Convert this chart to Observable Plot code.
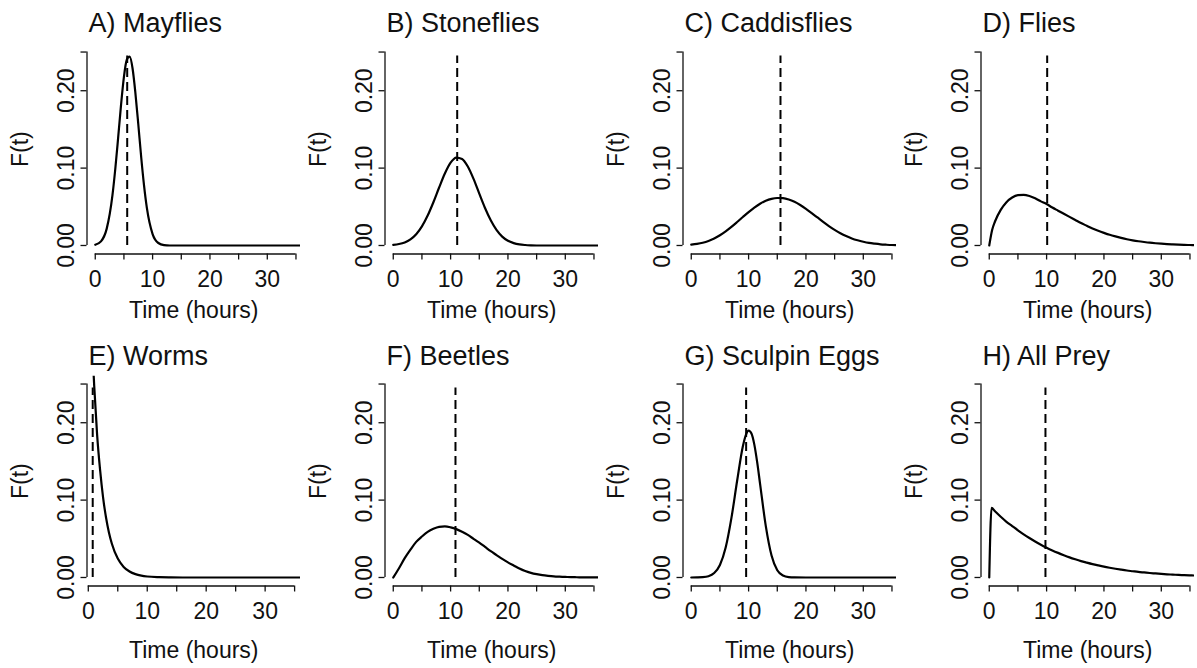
<!DOCTYPE html>
<html>
<head>
<meta charset="utf-8">
<script src="https://cdn.jsdelivr.net/npm/d3@7"></script>
<script src="https://cdn.jsdelivr.net/npm/@observablehq/plot@0.6"></script>
<style>
  body { margin: 0; background: #fff; }
  #chart { position: relative; width: 1197px; height: 668px; overflow: hidden; background: #fff; }
  .panel { position: absolute; }
</style>
</head>
<body>
<div id="chart"></div>
<script>
// ---- data ----
const titles = ["A) Mayflies", "B) Stoneflies", "C) Caddisflies", "D) Flies",
                "E) Worms", "F) Beetles", "G) Sculpin Eggs", "H) All Prey"];

const hours = [0,1,2,3,4,5,6,7,8,9,10,11,12,13,14,15,16,17,18,19,20,21,22,23,24,25,26,27,28,29,30,31,32,33,34,35,36];

const mayfliesHours = [0,1,2,3,3.5,4,4.5,5,5.5,6,6.5,7,7.5,8,8.5,9,10,11,12,13,14,16,20,25,30,36];
const mayflies = [0.0009,0.0053,0.0218,0.065,0.0995,0.140,0.182,0.218,0.240,0.244,0.229,0.197,0.157,0.115,0.078,0.0485,0.0147,0.0032,0.0005,0,0,0,0,0,0,0];

const stoneflies = [0.0008,0.0019,0.004,0.008,0.0146,0.0247,0.0387,0.0559,0.0749,0.093,0.107,0.1136,0.1118,0.102,0.086,0.067,0.0485,0.0326,0.0202,0.0115,0.0061,0.0031,0.0014,0.0006,0.0002,0,0,0,0,0,0,0,0,0,0,0,0];

const caddisflies = [0.001,0.002,0.0035,0.0058,0.009,0.0132,0.0182,0.024,0.0303,0.0368,0.0431,0.0489,0.0539,0.0578,0.0603,0.0614,0.0611,0.0594,0.0564,0.0523,0.0474,0.0419,0.0362,0.0305,0.0251,0.0202,0.0159,0.0122,0.0091,0.0067,0.0048,0.0033,0.0023,0.0015,0.001,0.0006,0.0004];

const fliesHours = [0,0.5,1,2,3,4,5,6,7,8,9,10,11,12,13,14,15,16,17,18,19,20,21,22,23,24,25,26,27,28,29,30,31,32,33,34,35,36];
const flies = [0,0.02,0.031,0.046,0.056,0.062,0.065,0.0655,0.064,0.061,0.057,0.0535,0.049,0.045,0.041,0.037,0.033,0.029,0.0255,0.022,0.019,0.0163,0.0138,0.0117,0.0098,0.0081,0.0067,0.0055,0.0045,0.0036,0.0029,0.0023,0.0018,0.0014,0.0011,0.0008,0.0006,0.0005];

const wormsHours = [0.8,1,1.5,2,2.5,3,3.5,4,5,6,7,8,9,10,12,14,16,20,25,30,36];
const worms = [0.279,0.248,0.184,0.139,0.104,0.0778,0.0582,0.0436,0.0244,0.0137,0.0077,0.0043,0.0024,0.0013,0.0004,0.0001,0,0,0,0,0];

const beetles = [0,0.012,0.025,0.036,0.046,0.053,0.059,0.063,0.0655,0.066,0.0648,0.0625,0.059,0.055,0.050,0.045,0.0395,0.034,0.029,0.024,0.0195,0.0155,0.0115,0.0083,0.006,0.0043,0.003,0.0021,0.0014,0.001,0.0007,0.0005,0.0003,0.0002,0.0001,0.0001,0];

const sculpinHours = [0,1,2,3,4,5,6,7,8,9,9.5,10,10.5,11,11.5,12,13,14,15,16,17,18,20,25,30,36];
const sculpin = [0,0.0001,0.0004,0.0016,0.0057,0.0162,0.0387,0.0767,0.125,0.1695,0.1837,0.1898,0.186,0.1717,0.1487,0.121,0.0664,0.0284,0.0094,0.0025,0.0005,0.0001,0,0,0,0];

const allPreyHours = [0,0.4,1,2,3,4,5,6,7,8,9,10,11,12,13,14,15,16,17,18,19,20,21,22,23,24,25,26,27,28,29,30,31,32,33,34,35,36];
const allPrey = [0,0.090,0.0855,0.0785,0.072,0.0665,0.061,0.0558,0.051,0.0465,0.0423,0.0385,0.035,0.0318,0.0288,0.026,0.0235,0.0212,0.0192,0.0173,0.0156,0.014,0.0126,0.0113,0.0101,0.009,0.0081,0.0072,0.0065,0.0058,0.0052,0.0046,0.0041,0.0037,0.0033,0.003,0.0027,0.0025];

// dashed vertical reference lines (hours)
const vlines = [5.57, 11.15, 15.56, 10.1, 0.75, 10.85, 9.57, 9.8];

const xTicks = [0,5,10,15,20,25,30,35];
const yTicks = [0,0.1,0.2,0.25];

// ---- build panels ----
const series = [
  [mayfliesHours, mayflies], [hours, stoneflies], [hours, caddisflies], [fliesHours, flies],
  [wormsHours, worms], [hours, beetles], [sculpinHours, sculpin], [allPreyHours, allPrey]
];
const xDomainStd = [-1.44, 35.79];
const xDomainWorms = [-0.22, 36.0];
const yDomain = [-0.011, 0.26];
const FONT = '"Liberation Sans", Arial, Helvetica, sans-serif';
const INK = "#111";

const chart = document.getElementById("chart");
series.forEach(([hx, fy], i) => {
  const row = Math.floor(i / 4), col = i % 4;
  const data = hx.map((h, j) => ({h, f: fy[j]}));
  const xDomain = i === 4 ? xDomainWorms : xDomainStd;
  const plot = Plot.plot({
    width: 302, height: 334,
    marginLeft: 86.5, marginRight: 2, marginTop: 43.8, marginBottom: 80.5,
    x: {domain: xDomain},
    y: {domain: yDomain},
    style: {background: "transparent", overflow: "visible", fontFamily: FONT, color: INK},
    marks: [
      Plot.ruleY([yDomain[0]], {x1: xTicks[0], x2: xTicks[xTicks.length - 1], stroke: INK, strokeWidth: 1.3}),
      Plot.ruleX([xDomain[0]], {y1: yTicks[0], y2: yTicks[yTicks.length - 1], stroke: INK, strokeWidth: 1.3}),
      Plot.axisX({
        ticks: xTicks, tickSize: 6, tickPadding: 11, strokeWidth: 1.3,
        tickFormat: d => (d % 10 === 0 ? String(d) : ""),
        fontSize: 23, label: "Time (hours)", labelAnchor: "center", labelArrow: "none",
        labelOffset: row ? 72 : 63.5
      }),
      Plot.axisY({
        ticks: yTicks, tickSize: 6, tickPadding: 7, tickRotate: -90, strokeWidth: 1.3,
        tickFormat: d => (d === 0.25 ? "" : d3.format(".2f")(d)),
        fontSize: 23, label: "F(t)", labelAnchor: "center", labelArrow: "none",
        labelOffset: 75
      }),
      Plot.ruleX([vlines[i]], {y1: 0, y2: 0.245, stroke: "#000", strokeWidth: 2, strokeDasharray: "9,5"}),
      Plot.line(data, {x: "h", y: "f", curve: "monotone-x", stroke: "#000", strokeWidth: 2.2, clip: true}),
      Plot.text([titles[i]], {frameAnchor: "top-left", textAnchor: "start", lineAnchor: "bottom",
        dx: 1.5, dy: row ? -11 : -12, fontSize: 27, fill: INK})
    ]
  });
  const div = document.createElement("div");
  div.className = "panel";
  div.style.left = (col * 298) + "px";
  div.style.top = (row * 332) + "px";
  div.appendChild(plot);
  chart.appendChild(div);
});
</script>
</body>
</html>
